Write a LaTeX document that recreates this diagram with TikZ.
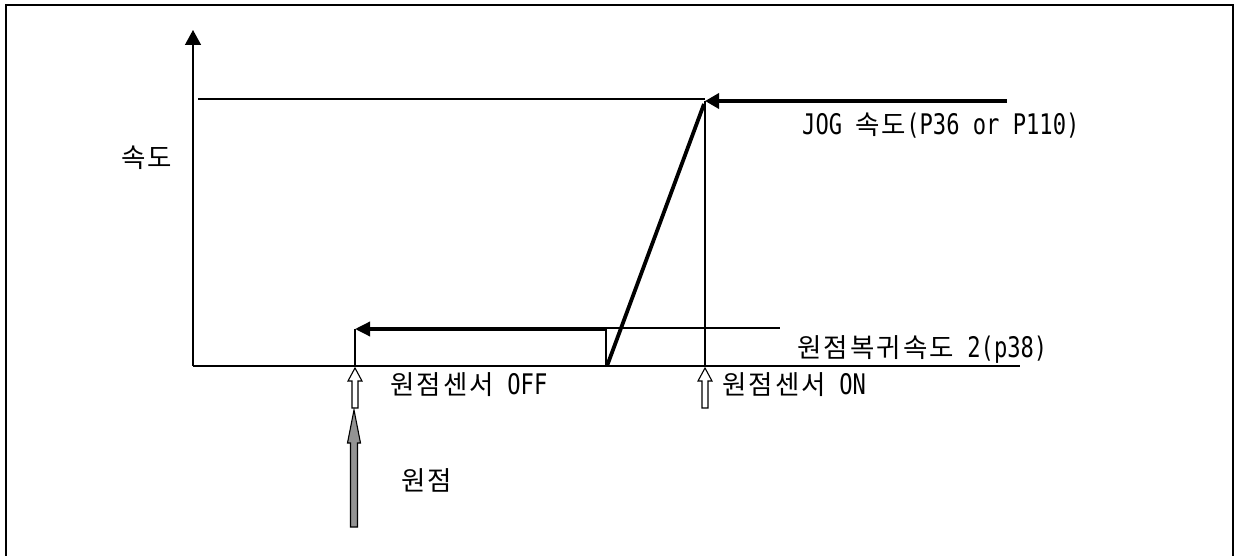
\documentclass[tikz,border=0pt]{standalone}
\usepackage{fontspec}
\usetikzlibrary{arrows.meta}
\newfontfamily\kr[LetterSpace=8]{Noto Sans CJK KR}
\newfontfamily\lat[FakeStretch=0.78,Scale=1.07]{DejaVu Sans Mono}
\newcommand\La[1]{{\lat #1}}
\begin{document}
\begin{tikzpicture}[x=1pt,y=-1pt,
  thinln/.style={line width=1.2pt},
  axisln/.style={line width=1.4pt},
  thickln/.style={line width=3.8pt},
  bigtip/.style={-{Triangle[length=14pt,width=15pt]}},
  hollowarrow/.style={draw=black,fill=white,line width=1.1pt,line join=miter},
  grayarrow/.style={draw=black,fill=gray!85,line width=1.1pt,line join=miter},
  lbl/.style={anchor=base west,inner sep=0pt,font=\kr\fontsize{26.5}{26.5}\selectfont}]
\useasboundingbox (0,0) rectangle (1236,556);
% frame
\draw[line width=1.3pt] (6,560) -- (6,5) -- (1233,5) -- (1233,560);
% key coordinates
\coordinate (O) at (193,366);
\coordinate (ytop) at (193,30);
\coordinate (xend) at (1020,366);
\coordinate (jogA) at (705,101);
\coordinate (jogR) at (1007,101);
\coordinate (rampB) at (607,366);
\coordinate (lowR) at (607,329);
\coordinate (lowA) at (355,329);
\coordinate (offB) at (355,366);
\coordinate (onB) at (705,366);
% axes
\draw[axisln,-{Triangle[length=15pt,width=16pt]}] (O) -- (ytop);
\draw[axisln] (O) -- (xend);
% thin reference lines
\draw[thinln] (198,99) -- (705,99);
\draw[thinln] (jogA) -- (onB);
\draw[thinln] (607,328) -- (780,328);
\draw[thinln] (lowA) -- (offB);
\draw[thinln] (606,328) -- (606,366);
% thick speed profile
\draw[thickln,bigtip] (jogR) -- (jogA);
\draw[thickln] (rampB) -- (704,104);
\draw[line width=3.4pt,-{Triangle[length=15pt,width=14pt]}] (lowR) -- (lowA);
% hollow sensor arrows
\foreach \x/\n in {355/offarr,705/onarr}{
  \draw[hollowarrow] (\x,368) -- (\x+7,381) -- (\x+3,381) -- (\x+3,408) -- (\x-3,408) -- (\x-3,381) -- (\x-7,381) -- cycle;
}
% gray origin arrow
\draw[grayarrow] (354,410) -- (360.5,443) -- (357.5,443) -- (357.5,527) -- (350.5,527) -- (350.5,443) -- (347.5,443) -- cycle;
% labels
\node[lbl] (speed) at (121,168) {속도};
\node[lbl] (jog) at (802,135) {\La{JOG\ }속도\La{(P36\ or\ P110)}};
\node[lbl] (ret) at (797,357) {원점복귀속도\La{\ 2(p38)}};
\node[lbl] (soff) at (390,394) {원점센서\La{\ OFF}};
\node[lbl] (son) at (722,394) {원점센서\La{\ ON}};
\node[lbl] (org) at (401,490) {원점};
\end{tikzpicture}
\end{document}
